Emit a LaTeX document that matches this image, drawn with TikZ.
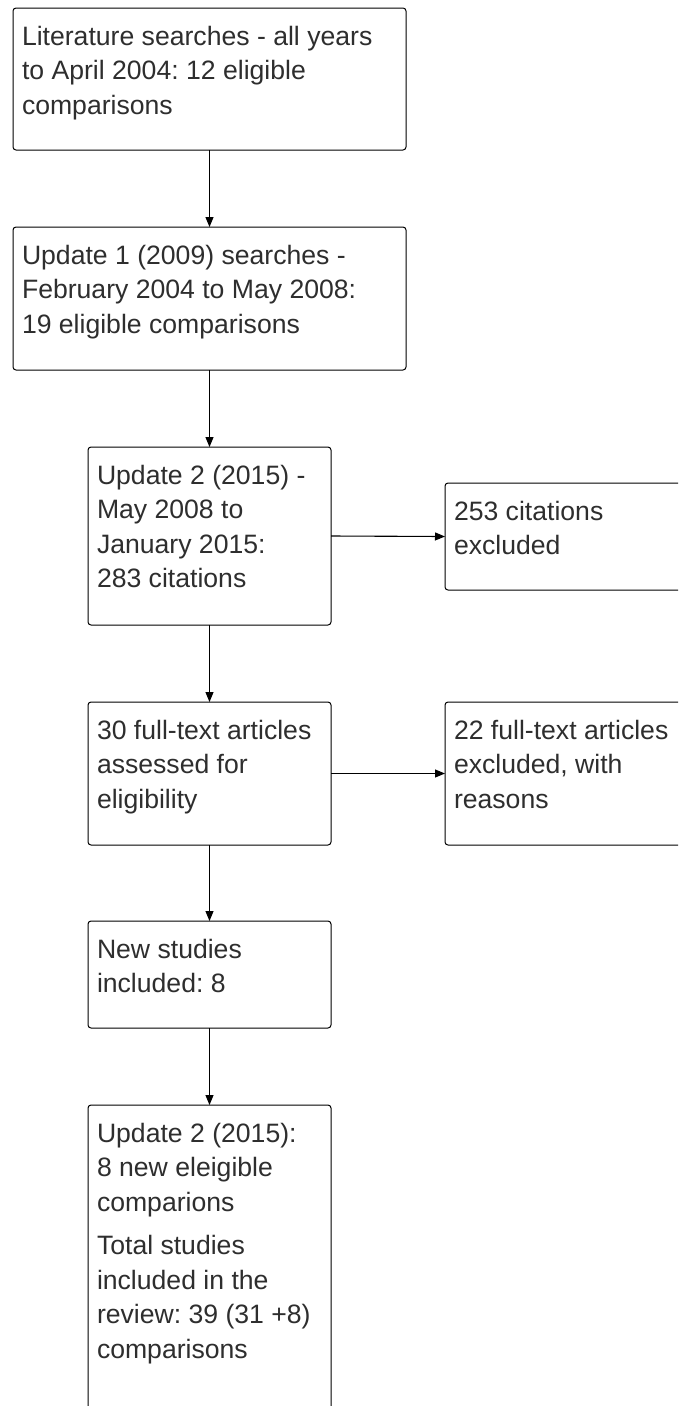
\documentclass[tikz,border=0pt]{standalone}
\usepackage{fontspec}
\setmainfont{Liberation Sans}
\usetikzlibrary{arrows.meta}
\frenchspacing
\newcommand\bt[3]{\parbox[c][#2][t]{#1}{\raggedright\frenchspacing\fontsize{26.6}{34.5}\selectfont\rule{0pt}{37pt}#3}}
\tikzset{
  fbox/.style={draw, line width=1pt, rounded corners=3pt, inner xsep=9pt, inner ysep=0pt, outer sep=0pt, anchor=north west, text=black!82},
  arr/.style={draw, line width=1.1pt, -{Triangle[length=10pt,width=8pt]}}
}
\begin{document}
\begin{tikzpicture}[x=1pt,y=-1pt]
\useasboundingbox (0,0) rectangle (678,1406);
\clip (0,0) rectangle (678,1406);
\fill[white] (0,0) rectangle (678,1406);
\node[fbox] (b1) at (13,8) {\bt{375pt}{142pt}{Literature searches - all years\\to April 2004: 12 eligible\\comparisons}};
\node[fbox] (b2) at (13,227) {\bt{375pt}{143pt}{Update 1 (2009) searches -\\February 2004 to May 2008:\\19 eligible comparisons}};
\node[fbox] (b3) at (88,447) {\bt{225pt}{178pt}{Update 2 (2015) -\\May 2008 to\\January 2015:\\283 citations}};
\node[fbox] (r1) at (445,483) {\bt{262pt}{107pt}{253 citations\\excluded}};
\node[fbox] (b4) at (88,702) {\bt{225pt}{143pt}{30 full-text articles\\assessed for\\eligibility}};
\node[fbox] (r2) at (445,702) {\bt{262pt}{143pt}{22 full-text articles\\excluded, with\\reasons}};
\node[fbox] (b5) at (88,921) {\bt{225pt}{107pt}{New studies\\included: 8}};
\node[fbox] (b6) at (88,1105) {\bt{225pt}{340pt}{Update 2 (2015):\\8 new eleigible\\comparions\par\vspace{9pt}Total studies\\included in the\\review: 39 (31 +8)\\comparisons}};
\draw[arr] (b1.south) -- (b2.north);
\draw[arr] (b2.south) -- (b3.north);
\draw[arr] (b3.east) -- (r1.west);
\draw[arr] (b3.south) -- (b4.north);
\draw[arr] (b4.east) -- (r2.west);
\draw[arr] (b4.south) -- (b5.north);
\draw[arr] (b5.south) -- (b6.north);
\end{tikzpicture}
\end{document}
